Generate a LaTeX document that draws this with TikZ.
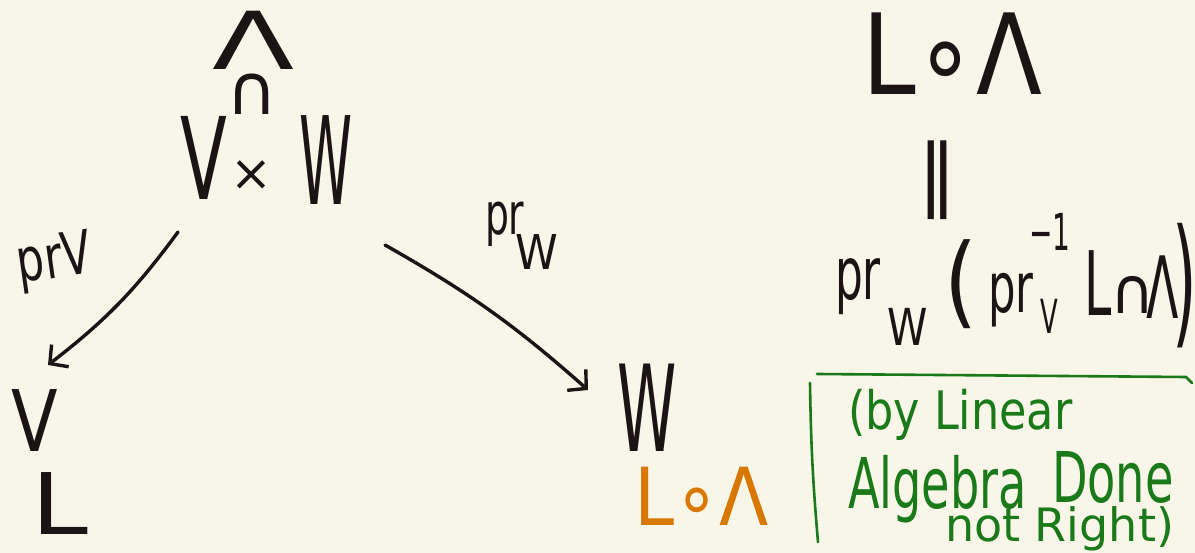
\documentclass[tikz,border=0pt]{standalone}
\usepackage{fontspec}
\setmainfont{DejaVu Sans}
\usepackage{graphicx}
\usetikzlibrary{arrows.meta}
\definecolor{bg}{HTML}{F8F5E9}
\definecolor{ink}{HTML}{1C1414}
\definecolor{orng}{HTML}{D97800}
\definecolor{grn}{HTML}{1A7A1A}
\newcommand{\hw}[3]{\scalebox{#2}[1]{\fontsize{#1}{#1}\selectfont #3}}
\begin{document}
\begin{tikzpicture}[x=1pt,y=-1pt,
  glyph/.style={inner sep=0pt,outer sep=0pt,text=ink},
  ograph/.style={glyph,text=orng},
  ggraph/.style={glyph,text=grn},
  arr/.style={draw=ink,line width=3.4pt,line cap=round,-{Straight Barb[length=13pt,width=28pt,line width=3.4pt]}},
  gline/.style={draw=grn,line width=2.6pt,line cap=round}]
\fill[bg] (0,0) rectangle (1195,553);
\useasboundingbox (0,0) rectangle (1195,553);

% V x W with Lambda inside
\node[glyph] (lam) at (254,40) {\hw{80}{1.5}{Λ}};
\node[glyph] (sub) at (252,94) {\hw{70}{1}{∩}};
\node[glyph] (vV) at (204,158) {\hw{114}{0.6}{V}};
\node[glyph] (tim) at (251,176) {\hw{50}{1}{×}};
\node[glyph] (vW) at (326,160) {\hw{122}{0.44}{W}};

% targets
\node[glyph] (lV) at (35,421) {\hw{85}{0.8}{V}};
\node[glyph] (lL) at (60,504) {\hw{85}{1.2}{L}};
\node[glyph] (rW) at (647,408) {\hw{120}{0.5}{W}};
\node[ograph,anchor=base] (oLL) at (702,525) {\hw{80}{0.9}{L∘Λ}};

% arrows
\draw[arr] ([shift={(-26,74)}]vV.center) to[bend left=8] ([shift={(13,-56)}]lV.center);
\draw[arr] ([shift={(59,85)}]vW.center) to[bend left=6] ([shift={(-59,-18)}]rW.center);

% arrow labels
\node[glyph,anchor=base west,rotate=8] (prV) at (20,283) {\hw{60}{0.72}{prV}};
\node[glyph,anchor=base west] (prWa) at (485,235) {\hw{58}{0.65}{pr}};
\node[glyph] (prWb) at (537,252) {\hw{48}{0.9}{W}};

% right formula
\node[glyph,anchor=base] (top) at (952,95) {\hw{112}{0.86}{L∘Λ}};
\node[glyph] (eq) at (937,180) {\hw{80}{1}{∥}};
\node[glyph,anchor=base west] (f1) at (835,300) {\hw{73}{0.6}{pr}};
\node[glyph] (f2) at (908,327) {\hw{51}{0.8}{W}};
\node[glyph] (f3) at (961,284) {\hw{100}{0.85}{(}};
\node[glyph,anchor=base west] (f4) at (988,313) {\hw{70}{0.62}{pr}};
\node[glyph] (f5) at (1049,316) {\hw{47}{0.55}{V}};
\node[glyph] (f6) at (1050,232) {\hw{51}{0.55}{−1}};
\node[glyph] (f7) at (1098,283) {\hw{89}{0.55}{L}};
\node[glyph] (f8) at (1133,295) {\hw{64}{0.95}{∩}};
\node[glyph] (f9) at (1163,287) {\hw{86}{0.55}{Λ}};
\node[glyph] (f10) at (1185,286) {\hw{140}{0.45}{)}};

% green box and text
\coordinate (g1) at (817,374);
\coordinate (g2) at (1186,377);
\coordinate (g3) at (1192,383);
\coordinate (g4) at (810,383);
\coordinate (g5) at (818,542);
\draw[gline] (g1) -- (g2) -- (g3);
\draw[gline] (g4) to[bend right=2] (g5);
\node[ggraph,anchor=base west] (t1) at (848,430) {\hw{53}{0.84}{(by Linear}};
\node[ggraph,anchor=base west] (t2) at (848,508) {\hw{70}{0.66}{Algebra}};
\node[ggraph,anchor=base west] (t2b) at (1052,502) {\hw{70}{0.66}{Done}};
\node[ggraph,anchor=base west] (t3) at (945,541) {\hw{46}{1}{not Right)}};
\end{tikzpicture}
\end{document}
